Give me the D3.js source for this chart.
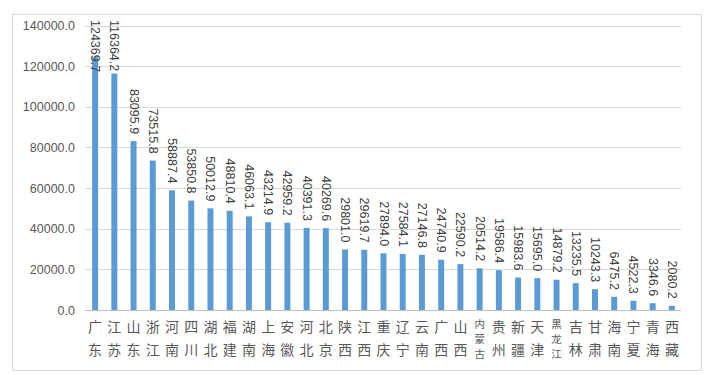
<!DOCTYPE html>
<html>
<head>
<meta charset="utf-8">
<title>bar</title>
<script src="https://cdn.jsdelivr.net/npm/d3@7"></script>
<style>
    body{ margin:0; background:#fff; }
    svg text{ font-family:"Liberation Sans", Arial, sans-serif; }
</style>
</head>
<body>
<div id="chart"></div>
<script>
var provinces = ["广东","江苏","山东","浙江","河南","四川","湖北","福建","湖南","上海","安徽","河北","北京","陕西","江西","重庆","辽宁","云南","广西","山西","内蒙古","贵州","新疆","天津","黑龙江","吉林","甘肃","海南","宁夏","青海","西藏"]
var values = [124369.7,116364.2,83095.9,73515.8,58887.4,53850.8,50012.9,48810.4,46063.1,43214.9,42959.2,40391.3,40269.6,29801.0,29619.7,27894.0,27584.1,27146.8,24740.9,22590.2,20514.2,19586.4,15983.6,15695.0,14879.2,13235.5,10243.3,6475.2,4522.3,3346.6,2080.2]
var yTicks = [0,20000,40000,60000,80000,100000,120000,140000]

var w = 712, h = 375
var data = provinces.map(function(p,i){ return {name:p, value:values[i]} })

var svg = d3.select("#chart").append("svg")
    .attr("width",w)
    .attr("height",h)

// chart frame
svg.append("rect")
    .attr("x",12.5).attr("y",14.5)
    .attr("width",689).attr("height",356)
    .attr("fill","#fff")
    .attr("stroke","#d9d9d9")

var xScale = d3.scaleBand().domain(provinces).range([85.5,681.5]).paddingInner(0.69).paddingOuter(0.345)
var yScale = d3.scaleLinear().domain([0,140000]).range([310,25.5])

// gridlines
svg.append("g").selectAll("line")
    .data(yTicks.slice(1))
    .enter().append("line")
    .attr("x1",85).attr("x2",681)
    .attr("y1",function(d){ return Math.round(yScale(d))+0.5 })
    .attr("y2",function(d){ return Math.round(yScale(d))+0.5 })
    .attr("stroke","#d9d9d9")

var yAxis = d3.axisLeft(yScale).tickValues(yTicks).tickSize(0).tickPadding(10)
    .tickFormat(function(d){ return d3.format(".1f")(d) })
var ya = svg.append("g")
    .attr("transform","translate(85,0)")
    .call(yAxis)
ya.select(".domain").remove()
ya.selectAll("text").attr("fill","#595959").style("font-size","12.5px")

// bars
svg.selectAll(".bar")
    .data(data)
    .enter().append("rect")
    .attr("class","bar")
    .attr("x",function(d){ return xScale(d.name) })
    .attr("width",xScale.bandwidth())
    .attr("y",function(d){ return yScale(d.value) })
    .attr("height",function(d){ return yScale(0)-yScale(d.value) })
    .attr("fill","#5b9bd5")

// x axis line
svg.append("line")
    .attr("x1",85).attr("x2",681)
    .attr("y1",310.5).attr("y2",310.5)
    .attr("stroke","#bfbfbf")

// value labels, rotated
svg.selectAll(".val")
    .data(data)
    .enter().append("text")
    .attr("class","val")
    .attr("fill","#404040")
    .style("font-size","12.5px")
    .attr("dominant-baseline","central")
    .text(function(d){ return d3.format(".1f")(d.value) })
    .each(function(d){
        var len = this.getComputedTextLength()
        var end = yScale(d.value) - 7
        var start = Math.max(20, end - len)
        var cx = xScale(d.name) + xScale.bandwidth()/2
        d3.select(this).attr("text-anchor","start")
            .attr("transform","translate("+cx+","+start+") rotate(90)")
    })

// category labels, one character per line
svg.selectAll(".cat")
    .data(data)
    .enter().append("text")
    .attr("class","cat")
    .attr("transform",function(d){ return "translate("+(xScale(d.name)+xScale.bandwidth()/2)+",0)" })
    .attr("text-anchor","middle")
    .attr("fill","#595959")
    .style("font-family","'Noto Sans CJK SC', sans-serif")
    .style("font-size",function(d){ return d.name.length == 3 ? "10.5px" : "14px" })
    .each(function(d){
        var chars = d.name.split("")
        var ys = chars.length == 3 ? [327.5,342.8,358] : [332,355]
        d3.select(this).selectAll("tspan")
            .data(chars)
            .enter().append("tspan")
            .attr("x",0)
            .attr("y",function(c,i){ return ys[i] })
            .text(function(c){ return c })
    })
</script>
</body>
</html>
